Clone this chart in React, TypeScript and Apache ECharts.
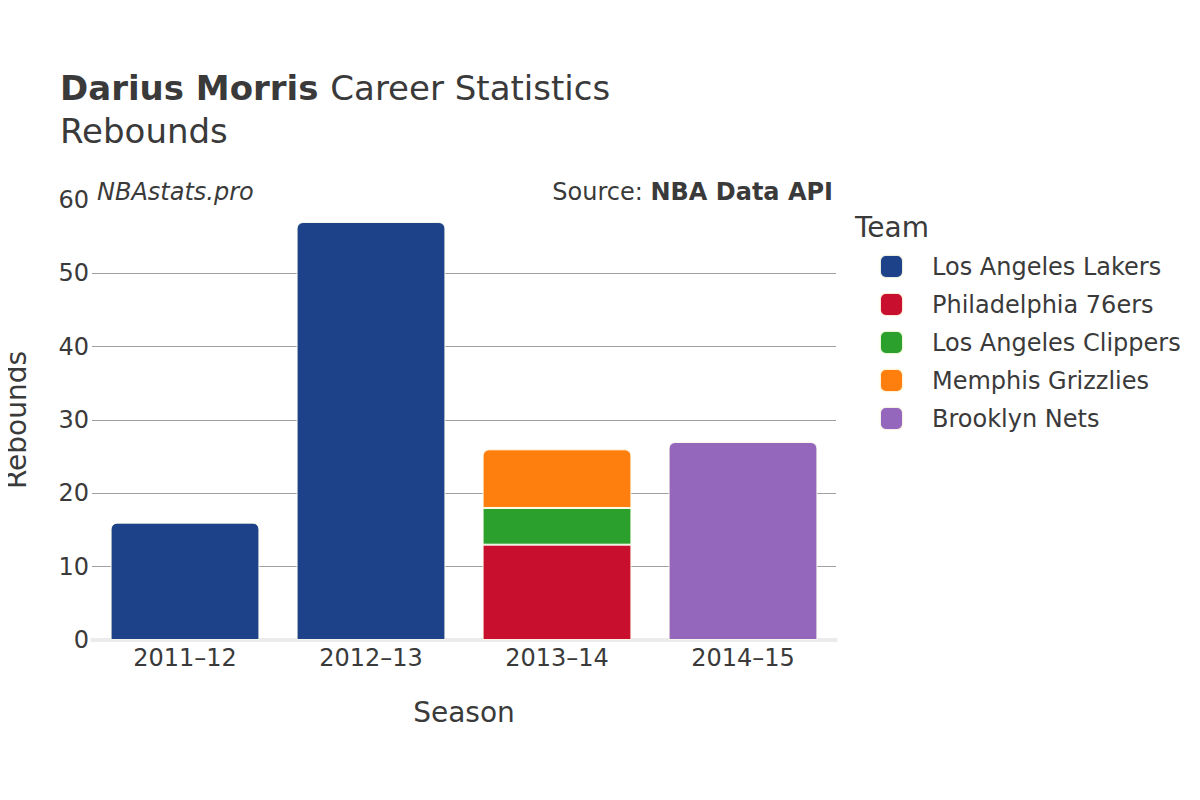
import React, { useEffect, useRef } from "react";
import * as echarts from "echarts";

const seasons = ["2011–12", "2012–13", "2013–14", "2014–15"];
const teams = [
  "Los Angeles Lakers",
  "Philadelphia 76ers",
  "Los Angeles Clippers",
  "Memphis Grizzlies",
  "Brooklyn Nets",
];
const teamColors = ["#1d428a", "#c8102e", "#2ca02c", "#ff7f0e", "#9467bd"];
const lakers = [16, 57, null, null];
const sixers = [null, null, 13, null];
const clippers = [null, null, 5, null];
const grizzlies = [null, null, 8, null];
const nets = [null, null, null, 27];
const seriesValues = [lakers, sixers, clippers, grizzlies, nets];
const topOfStack = [true, false, false, true, true];
const yTicks = [0, 10, 20, 30, 40, 50, 60];

const FONT = "DejaVu Sans";
const TXT = "#3a3a3a";

export default function App() {
  const ref = useRef<HTMLDivElement>(null);
  useEffect(() => {
    const chart = echarts.init(ref.current!, undefined, { renderer: "svg" });
    chart.setOption({
      animation: false,
      backgroundColor: "#fff",
      textStyle: { fontFamily: FONT },
      grid: { left: 92, right: 364, top: 200, bottom: 160, containLabel: false },
      xAxis: {
        type: "category",
        data: seasons,
        axisTick: { show: false },
        axisLine: { show: true, lineStyle: { color: "#ebebeb", width: 4 } },
        axisLabel: { fontSize: 24, color: TXT, margin: 6, fontFamily: FONT },
      },
      yAxis: {
        type: "value",
        min: yTicks[0],
        max: yTicks[yTicks.length - 1],
        interval: 10,
        axisLine: { show: false },
        axisTick: { show: false },
        splitLine: { showMaxLine: false, lineStyle: { color: "#a0a0a0", width: 1 } },
        axisLabel: { fontSize: 24, color: TXT, margin: 3, fontFamily: FONT },
      },
      legend: {
        show: true,
        orient: "vertical",
        left: 879,
        top: 254,
        padding: 0,
        itemWidth: 23,
        itemHeight: 23,
        itemGap: 13,
        icon: "roundRect",
        data: teams,
        textStyle: { fontSize: 24, lineHeight: 24, color: TXT, fontFamily: FONT, padding: [0, 0, 0, 24] },
      },
      series: teams.map((t, i) => ({
        name: t,
        type: "bar",
        stack: "total",
        barWidth: "80%",
        data: seriesValues[i],
        itemStyle: {
          color: teamColors[i],
          borderColor: "rgba(255,255,240,0.9)",
          borderWidth: 1,
          borderRadius: topOfStack[i] ? [6, 6, 0, 0] : 0,
        },
      })),
      graphic: [
        {
          type: "text",
          left: 60,
          top: 71,
          style: {
            text: "{b|Darius Morris }{n|Career Statistics}",
            rich: {
              b: { fontSize: 34, fontWeight: "bold", fill: TXT, fontFamily: FONT },
              n: { fontSize: 34, fill: TXT, fontFamily: FONT },
            },
          },
        },
        {
          type: "text",
          left: 60,
          top: 114,
          style: { text: "Rebounds", fontSize: 34, fill: TXT, fontFamily: FONT },
        },
        {
          type: "text",
          left: 97,
          top: 180,
          style: { text: "NBAstats.pro", fontSize: 24, fontStyle: "italic", fill: TXT, fontFamily: FONT },
        },
        {
          type: "text",
          right: 367,
          top: 180,
          style: {
            text: "{n|Source: }{b|NBA Data API}",
            rich: {
              n: { fontSize: 24, fill: TXT, fontFamily: FONT },
              b: { fontSize: 24, fontWeight: "bold", fill: TXT, fontFamily: FONT },
            },
          },
        },
        {
          type: "text",
          left: 855,
          top: 213,
          style: { text: "Team", fontSize: 28, fill: TXT, fontFamily: FONT },
        },
        {
          type: "text",
          x: 464,
          y: 712,
          style: { text: "Season", fontSize: 28, fill: TXT, fontFamily: FONT, align: "center", verticalAlign: "middle" },
        },
        {
          type: "text",
          x: 16,
          y: 420,
          rotation: Math.PI / 2,
          style: { text: "Rebounds", fontSize: 28, fill: TXT, fontFamily: FONT, align: "center", verticalAlign: "middle" },
        },
      ],
    });
    return () => chart.dispose();
  }, []);
  return <div ref={ref} style={{ width: 1200, height: 800, margin: -8 }} />;
}
